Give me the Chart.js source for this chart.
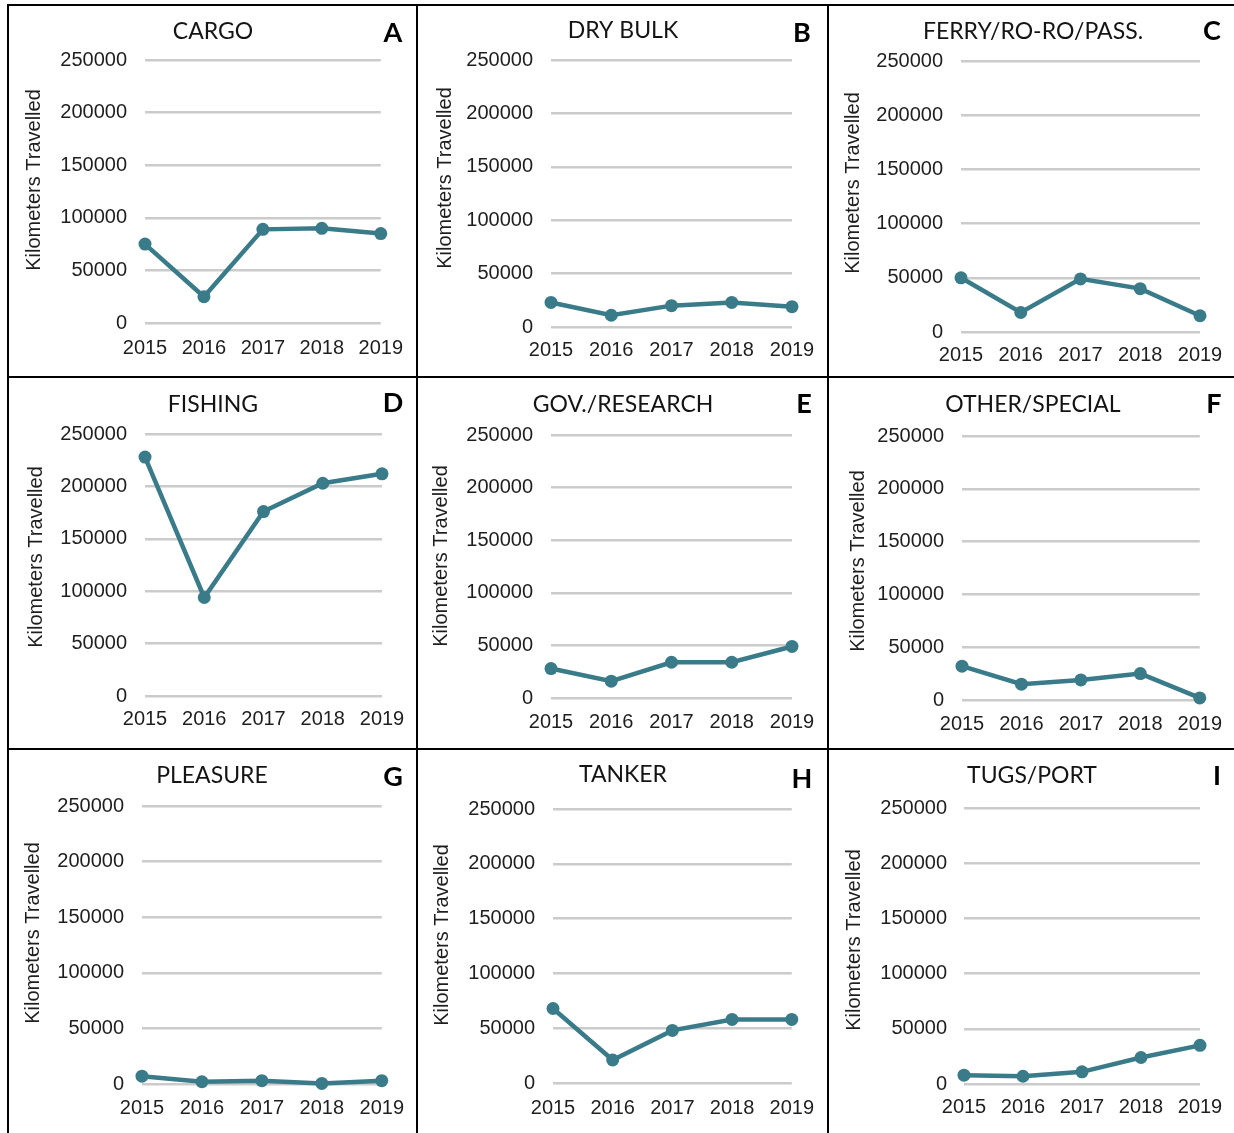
<!DOCTYPE html>
<html>
<head>
<meta charset="utf-8">
<script src="https://cdn.jsdelivr.net/npm/chart.js@4.4.1/dist/chart.umd.min.js"></script>
<style>
  html, body { margin: 0; padding: 0; background: #ffffff; }
  body { width: 1234px; height: 1133px; position: relative; overflow: hidden; }
  canvas { position: absolute; }
  .rule { position: absolute; background: #000000; }
</style>
</head>
<body>
<div class="rule" style="left:7px;top:4px;width:1227px;height:2px"></div>
<div class="rule" style="left:7px;top:4px;width:2px;height:1129px"></div>
<div class="rule" style="left:416px;top:4px;width:2px;height:1129px"></div>
<div class="rule" style="left:827px;top:4px;width:2px;height:1129px"></div>
<div class="rule" style="left:7px;top:376px;width:1227px;height:2px"></div>
<div class="rule" style="left:7px;top:748px;width:1227px;height:2px"></div>

<script>
// Kilometres travelled per vessel type, 2015-2019
const years = ['2015', '2016', '2017', '2018', '2019'];
const kmTicks = [0, 50000, 100000, 150000, 200000, 250000];

const cargo    = [75000, 25000, 89000, 90000, 85000];
const dryBulk  = [23000, 11000, 20000, 23000, 19000];
const ferry    = [50000, 18000, 49000, 40000, 15000];
const fishing  = [228000, 94000, 176000, 203000, 212000];
const govRes   = [28000, 16000, 34000, 34000, 49000];
const other    = [32000, 15000, 19000, 25000, 2000];
const pleasure = [7000, 2000, 3000, 500, 3000];
const tanker   = [68000, 21000, 48000, 58000, 58000];
const tugs     = [8000, 7000, 11000, 24000, 35000];

const titles  = ['CARGO', 'DRY BULK', 'FERRY/RO-RO/PASS.', 'FISHING', 'GOV./RESEARCH',
                 'OTHER/SPECIAL', 'PLEASURE', 'TANKER', 'TUGS/PORT'];
const letters = ['A', 'B', 'C', 'D', 'E', 'F', 'G', 'H', 'I'];
const series  = [cargo, dryBulk, ferry, fishing, govRes, other, pleasure, tanker, tugs];
const yTitle  = 'Kilometers Travelled';

// Page geometry of each cell: canvas box, plot box, label anchors
const cols = [{x: 9, w: 407}, {x: 418, w: 409}, {x: 829, w: 405}];
const rows = [{y: 6, h: 370}, {y: 378, h: 370}, {y: 750, h: 383}];
const geo = [
  {L:145, T:60,  R:382, B:323, tickR:127, xLab:348, tX:213, tY:39,  lX:393, lY:42,  yX:34,  yY:180},
  {L:551, T:60,  R:792, B:327, tickR:533, xLab:350, tX:623, tY:38,  lX:802, lY:42,  yX:445, yY:178},
  {L:961, T:61,  R:1200,B:332, tickR:943, xLab:355, tX:1033,tY:39,  lX:1212,lY:40,  yX:853, yY:183},
  {L:145, T:434, R:382, B:696, tickR:127, xLab:719, tX:213, tY:412, lX:393, lY:412, yX:36,  yY:557},
  {L:551, T:435, R:792, B:698, tickR:533, xLab:722, tX:623, tY:412, lX:804, lY:413, yX:441, yY:556},
  {L:962, T:436, R:1201,B:700, tickR:944, xLab:724, tX:1033,tY:412, lX:1214,lY:413, yX:858, yY:561},
  {L:142, T:806, R:382, B:1084,tickR:124, xLab:1108,tX:212, tY:783, lX:393, lY:786, yX:33,  yY:933},
  {L:553, T:809, R:792, B:1083,tickR:535, xLab:1108,tX:623, tY:782, lX:802, lY:788, yX:442, yY:935},
  {L:964, T:808, R:1200,B:1084,tickR:947, xLab:1107,tX:1032,tY:783, lX:1217,lY:785, yX:854, yY:940}
];

const LINE = '#3a7b8a';
const GRID = '#cbcbcb';
const INK  = '#1e1e1e';
const TICK_FONT = {family: "'Liberation Sans', Arial, sans-serif", size: 20, lineHeight: 1.2};

// Panel heading, corner letter and rotated axis title
const panelText = {
  id: 'panelText',
  afterDraw(chart, args, opts) {
    const ctx = chart.ctx;
    const g = opts.g, ox = opts.ox, oy = opts.oy;
    ctx.save();
    ctx.fillStyle = '#141414';
    ctx.textAlign = 'center';
    ctx.textBaseline = 'alphabetic';
    ctx.font = "23px Lato, 'Open Sans', sans-serif";
    ctx.fillText(opts.title, g.tX - ox, g.tY - oy);
    ctx.fillStyle = '#000000';
    ctx.font = "bold 27px Lato, 'Open Sans', sans-serif";
    ctx.fillText(opts.letter, g.lX - ox, g.lY - oy);
    ctx.fillStyle = INK;
    ctx.font = "20px 'Liberation Sans', Arial, sans-serif";
    ctx.translate(g.yX - ox, g.yY - oy);
    ctx.rotate(-Math.PI / 2);
    ctx.textBaseline = 'middle';
    ctx.fillText(yTitle, 0, 0);
    ctx.restore();
  }
};

series.forEach((values, i) => {
  const col = cols[i % 3], row = rows[Math.floor(i / 3)], g = geo[i];
  const canvas = document.createElement('canvas');
  canvas.width = col.w; canvas.height = row.h;
  canvas.style.left = col.x + 'px'; canvas.style.top = row.y + 'px';
  canvas.style.width = col.w + 'px'; canvas.style.height = row.h + 'px';
  document.body.appendChild(canvas);

  new Chart(canvas, {
    type: 'line',
    data: {
      labels: years,
      datasets: [{
        data: values,
        borderColor: LINE,
        backgroundColor: LINE,
        borderWidth: 4.5,
        pointRadius: 6.5,
        pointBorderWidth: 0,
        pointBackgroundColor: LINE,
        tension: 0,
        clip: false
      }]
    },
    options: {
      responsive: false,
      animation: false,
      events: [],
      layout: {padding: {left: 0, top: g.T - row.y, right: col.x + col.w - g.R, bottom: 0}},
      plugins: {
        legend: {display: false},
        title: {display: false},
        tooltip: {enabled: false},
        panelText: {g: g, ox: col.x, oy: row.y, title: titles[i], letter: letters[i]}
      },
      scales: {
        x: {
          type: 'category',
          offset: false,
          grid: {display: false, drawTicks: false, tickLength: 0},
          border: {display: false},
          ticks: {color: INK, font: TICK_FONT, maxRotation: 0, autoSkip: false,
                  padding: g.xLab - g.B - 12},
          afterFit(s) { s.height = row.y + row.h - g.B; }
        },
        y: {
          min: 0, max: 250000,
          grid: {color: GRID, lineWidth: 2.5, drawTicks: false, tickLength: 0},
          border: {display: false},
          ticks: {color: INK, font: TICK_FONT, padding: g.L - g.tickR, autoSkip: false,
                  callback: v => String(v)},
          afterBuildTicks(s) { s.ticks = kmTicks.map(v => ({value: v})); },
          afterFit(s) { s.width = g.L - col.x; }
        }
      }
    },
    plugins: [panelText]
  });
});
</script>
</body>
</html>
